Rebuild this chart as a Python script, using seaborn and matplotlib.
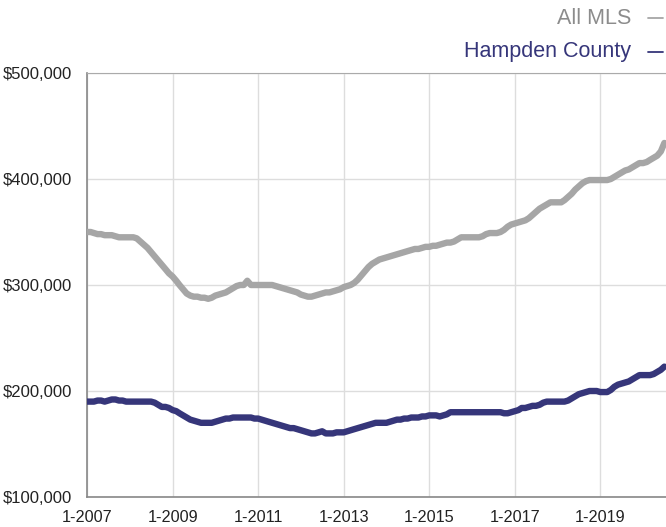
import matplotlib
matplotlib.use("Agg")
import matplotlib.pyplot as plt
import matplotlib.dates as mdates
import matplotlib.ticker as mticker
import numpy as np
import pandas as pd
import seaborn as sns

# Monthly median prices (thousands of $), Jan 2007 - Jul 2020
all_mls = [
    350, 350, 349, 348, 348, 347, 347, 347, 346, 345, 345, 345,   # 2007
    345, 345, 344, 341, 338, 335, 331, 327, 323, 319, 315, 311,   # 2008
    308, 304, 300, 296, 292, 290, 289, 289, 288, 288, 287, 288,   # 2009
    290, 291, 292, 293, 295, 297, 299, 300, 300, 304, 300, 300,   # 2010
    300, 300, 300, 300, 300, 299, 298, 297, 296, 295, 294, 293,   # 2011
    291, 290, 289, 289, 290, 291, 292, 293, 293, 294, 295, 296,   # 2012
    298, 299, 300, 302, 305, 309, 313, 317, 320, 322, 324, 325,   # 2013
    326, 327, 328, 329, 330, 331, 332, 333, 334, 334, 335, 336,   # 2014
    336, 337, 337, 338, 339, 340, 340, 341, 343, 345, 345, 345,   # 2015
    345, 345, 345, 346, 348, 349, 349, 349, 350, 352, 355, 357,   # 2016
    358, 359, 360, 361, 363, 366, 369, 372, 374, 376, 378, 378,   # 2017
    378, 378, 380, 383, 386, 390, 393, 396, 398, 399, 399, 399,   # 2018
    399, 399, 399, 400, 402, 404, 406, 408, 409, 411, 413, 415,   # 2019
    415, 416, 418, 420, 422, 426, 434,                            # 2020
]
hampden = [
    190, 190, 190, 191, 191, 190, 191, 192, 192, 191, 191, 190,   # 2007
    190, 190, 190, 190, 190, 190, 190, 189, 187, 185, 185, 184,   # 2008
    182, 181, 179, 177, 175, 173, 172, 171, 170, 170, 170, 170,   # 2009
    171, 172, 173, 174, 174, 175, 175, 175, 175, 175, 175, 174,   # 2010
    174, 173, 172, 171, 170, 169, 168, 167, 166, 165, 165, 164,   # 2011
    163, 162, 161, 160, 160, 161, 162, 160, 160, 160, 161, 161,   # 2012
    161, 162, 163, 164, 165, 166, 167, 168, 169, 170, 170, 170,   # 2013
    170, 171, 172, 173, 173, 174, 174, 175, 175, 175, 176, 176,   # 2014
    177, 177, 177, 176, 177, 178, 180, 180, 180, 180, 180, 180,   # 2015
    180, 180, 180, 180, 180, 180, 180, 180, 180, 179, 179, 180,   # 2016
    181, 182, 184, 184, 185, 186, 186, 187, 189, 190, 190, 190,   # 2017
    190, 190, 190, 191, 193, 195, 197, 198, 199, 200, 200, 200,   # 2018
    199, 199, 199, 201, 204, 206, 207, 208, 209, 211, 213, 215,   # 2019
    215, 215, 215, 216, 218, 220, 223,                            # 2020
]
series_names = ["All MLS", "Hampden County"]
colors = ["#a6a6a6", "#36367a"]
major_years = [2007, 2009, 2011, 2013, 2015, 2017, 2019]

dates = pd.date_range("2007-01-01", periods=len(all_mls), freq="MS")
df = pd.DataFrame({
    "date": np.concatenate([dates, dates]),
    "price": np.array(all_mls + hampden) * 1000,
    "series": [series_names[0]] * len(all_mls) + [series_names[1]] * len(hampden),
})

sns.set_style("white")
plt.rcParams["font.family"] = ["Liberation Sans", "DejaVu Sans"]

fig = plt.figure(figsize=(6.66, 5.27), dpi=100)
ax = fig.add_axes([0.1306, 0.0569, 0.8694, 0.8046])

sns.lineplot(data=df, x="date", y="price", hue="series", palette=colors,
             linewidth=4.6, legend=False, ax=ax, zorder=3)

ax.set_ylim(100000, 500000)
ax.set_xlim(pd.Timestamp("2007-01-01"), pd.Timestamp("2020-07-15"))
ax.yaxis.set_major_locator(mticker.MultipleLocator(100000))
ax.yaxis.set_major_formatter(mticker.FuncFormatter(lambda v, p: f"${v:,.0f}"))
ax.xaxis.set_major_locator(mticker.FixedLocator(
    mdates.date2num([pd.Timestamp(f"{y}-01-01") for y in major_years])))
ax.xaxis.set_minor_locator(mdates.YearLocator(1, month=1, day=1))
ax.xaxis.set_major_formatter(mdates.DateFormatter("1-%Y"))

ax.grid(True, which="major", color="#dddddd", linewidth=1, zorder=0)
ax.set_xlabel("")
ax.set_ylabel("")
ax.tick_params(axis="y", length=0, pad=11, labelsize=12, labelcolor="#222222")
ax.tick_params(axis="x", which="major", length=5, width=1, color="#888888",
               direction="out", pad=4, labelsize=11.7, labelcolor="#222222")
ax.tick_params(axis="x", which="minor", length=4, width=1, color="#888888", direction="out")

for side in ["left", "bottom"]:
    ax.spines[side].set_color("#888888")
    ax.spines[side].set_linewidth(1.2)
ax.spines["top"].set_color("#aaaaaa")
ax.spines["right"].set_visible(False)

# Legend drawn as right-aligned text with a short dash
for i, (name, col) in enumerate(zip(series_names, colors)):
    ypos = 1 - (18 + 34 * i) / 527
    txtcol = "#8c8c8c" if i == 0 else col
    fig.text(631 / 666, ypos, name, ha="right", va="center", fontsize=15.5, color=txtcol)
    fig.lines.append(plt.Line2D([648 / 666, 663 / 666], [ypos, ypos],
                                transform=fig.transFigure, color=col, linewidth=1.3))

fig.savefig("out.png", dpi=100)
